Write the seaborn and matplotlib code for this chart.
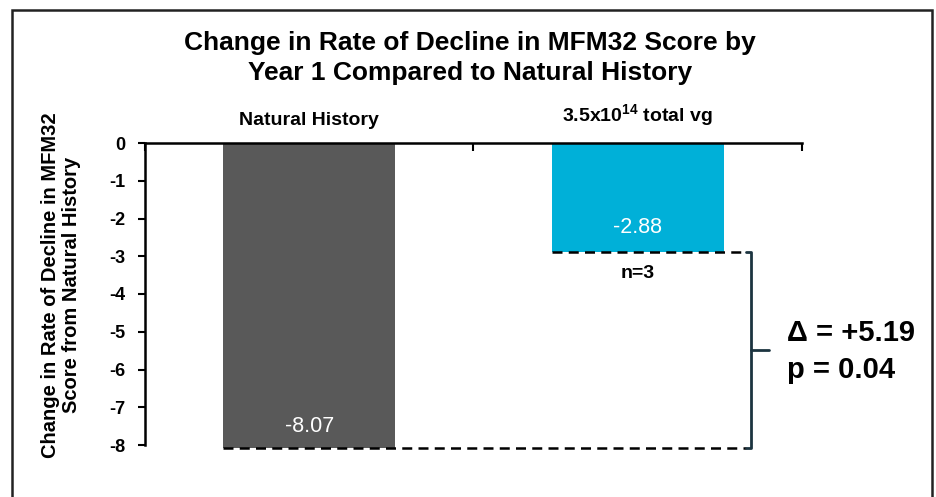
import matplotlib
matplotlib.use("Agg")
import matplotlib.pyplot as plt
import seaborn as sns
import pandas as pd
from matplotlib.patches import Rectangle

# data
groups = ["Natural History", "3.5x10$^{\\mathbf{14}}$ total vg"]
values = [-8.07, -2.88]
bar_colors = ["#595959", "#00b0d8"]
value_labels = ["-8.07", "-2.88"]
n_label = "n=3"
delta_text = "\u0394 = +5.19"
p_text = "p = 0.04"

sns.set_style("white")
plt.rcParams["font.family"] = ["Liberation Sans", "DejaVu Sans"]
plt.rcParams["mathtext.fontset"] = "custom"
plt.rcParams["mathtext.bf"] = "Liberation Sans:bold"
plt.rcParams["mathtext.rm"] = "Liberation Sans:bold"
plt.rcParams["text.color"] = "black"
plt.rcParams["ytick.color"] = "black"
plt.rcParams["xtick.color"] = "black"

df = pd.DataFrame({"group": groups, "value": values})

fig = plt.figure(figsize=(9.37, 4.97), dpi=100)
ax = fig.add_axes([145 / 937, 1 - 445 / 497, (802 - 145) / 937, (445 - 143) / 497])

sns.barplot(data=df, x="group", y="value", hue="group", palette=bar_colors,
            width=0.525, legend=False, ax=ax, saturation=1)

ax.set_xlim(-0.5, 1.5)
ax.set_ylim(-8.0, 0)
for p in ax.patches:
    p.set_clip_on(False)
    p.set_edgecolor("none")

# axes: x axis drawn at zero (top), y axis on the left
for s in ["bottom", "right"]:
    ax.spines[s].set_visible(False)
for s in ["top", "left"]:
    ax.spines[s].set_linewidth(1.8)
    ax.spines[s].set_color("black")
ax.xaxis.set_ticks_position("top")
ax.set_xticks([-0.5, 0.5, 1.5])
ax.set_xticklabels([])
ax.tick_params(axis="x", direction="in", length=6, width=1.5, top=True)
ax.set_yticks(range(0, -9, -1))
ax.set_yticklabels([str(v) for v in range(0, -9, -1)], fontsize=13, fontweight="bold")
ax.tick_params(axis="y", direction="out", length=5, width=1.5, pad=9, left=True,
               labelcolor="black")
ax.set_xlabel("")
ax.set_ylabel("")

# category labels above the axis
for i, g in enumerate(groups):
    ax.text(i, 0.38, g, ha="center", va="bottom", fontsize=14, fontweight="bold")

# value labels inside bars
ax.text(0, values[0] + 0.55, value_labels[0], ha="center", va="center",
        color="white", fontsize=15.5)
ax.text(1, values[1] + 0.65, value_labels[1], ha="center", va="center",
        color="white", fontsize=15.5)
ax.text(1, values[1] - 0.57, n_label, ha="center", va="center",
        fontsize=14, fontweight="bold")

# dashed reference lines at bar ends
x_end = 1.33
ax.plot([-0.2625, x_end], [values[0], values[0]], ls=(0, (4, 2.5)), color="black",
        lw=1.8, clip_on=False)
ax.plot([0.7375, x_end], [values[1], values[1]], ls=(0, (4, 2.5)), color="black",
        lw=1.8, clip_on=False)

# bracket
bx = 1.345
mid = (values[0] + values[1]) / 2
bcol = "#1c3440"
ax.plot([x_end, bx, bx, x_end], [values[1], values[1], values[0], values[0]],
        color=bcol, lw=2, clip_on=False)
ax.plot([bx, 1.40], [mid, mid], color=bcol, lw=2, clip_on=False)
ax.text(1.455, -5.03, delta_text, ha="left", va="center", fontsize=21,
        fontweight="bold")
ax.text(1.455, -6.01, p_text, ha="left", va="center", fontsize=21,
        fontweight="bold")

# title
fig.text(470 / 937, 1 - 58 / 497,
         "Change in Rate of Decline in MFM32 Score by\nYear 1 Compared to Natural History",
         ha="center", va="center", fontsize=19, fontweight="bold", linespacing=1.3)

# y label
fig.text(61 / 937, 1 - 285 / 497,
         "Change in Rate of Decline in MFM32\nScore from Natural History",
         ha="center", va="center", rotation=90, fontsize=14.5, fontweight="bold",
         linespacing=1.15)

# outer frame
fig.patches.append(Rectangle((12 / 937, -0.05), (932 - 12) / 937, 1 - 10 / 497 + 0.05,
                             transform=fig.transFigure, fill=False,
                             edgecolor="#222222", lw=1.8))

fig.savefig("out.png", dpi=100)
